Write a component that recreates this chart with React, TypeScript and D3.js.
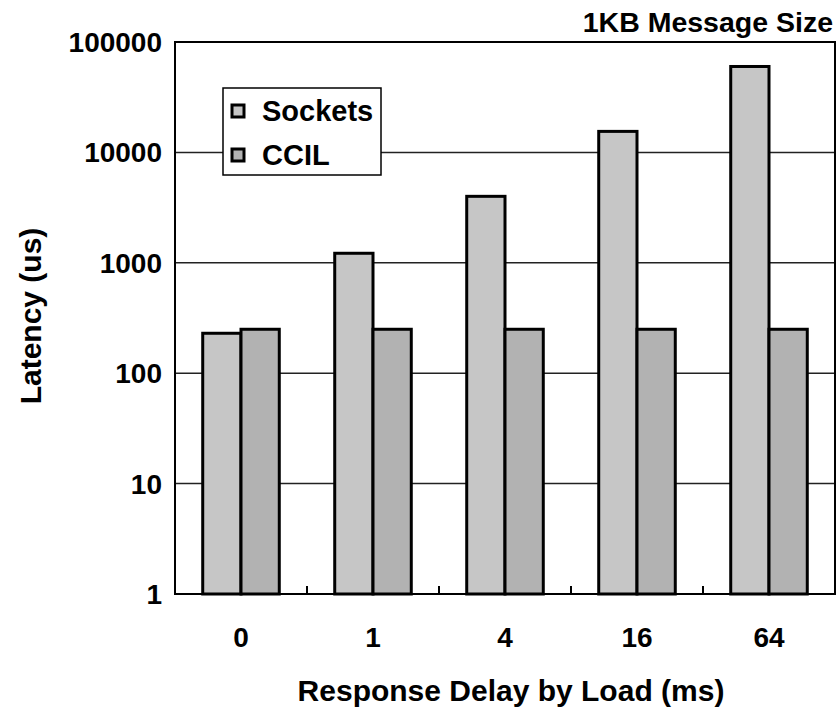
import React, { useEffect, useRef } from "react";
import * as d3 from "d3";

const categories = ["0", "1", "4", "16", "64"];
const socketsValues = [230, 1220, 4000, 15500, 60000];
const ccilValues = [250, 250, 250, 250, 250];
const seriesNames = ["Sockets", "CCIL"];
const yTicks = [1, 10, 100, 1000, 10000, 100000];

const App: React.FC = () => {
  const svgRef = useRef<SVGSVGElement>(null);

  useEffect(() => {
    if (!svgRef.current) return;
    const svg = d3.select(svgRef.current);
    svg.selectAll("*").remove();

    const margin = { top: 42, right: 2, bottom: 116, left: 175 };
    const width = 837 - margin.left - margin.right;
    const height = 710 - margin.top - margin.bottom;
    const font = "'Liberation Sans', Arial, sans-serif";
    const colors = ["#c6c6c6", "#b2b2b2"];

    const g = svg
      .append("g")
      .attr("transform", `translate(${margin.left},${margin.top})`);

    const x = d3.scaleBand().domain(categories).range([0, width]);
    const inner = d3
      .scaleBand()
      .domain(seriesNames)
      .range([0, x.bandwidth() * 0.58])
      .padding(0);
    const offset = (x.bandwidth() - x.bandwidth() * 0.58) / 2;

    const y = d3.scaleLog().domain([1, 100000]).range([height, 0]);

    // gridlines
    g.append("g")
      .selectAll("line")
      .data(yTicks)
      .enter()
      .append("line")
      .attr("x1", 0)
      .attr("x2", width)
      .attr("y1", (d) => y(d))
      .attr("y2", (d) => y(d))
      .attr("stroke", "#222")
      .attr("stroke-width", 1.5);

    // y tick labels
    g.append("g")
      .selectAll("text")
      .data(yTicks)
      .enter()
      .append("text")
      .attr("x", -13)
      .attr("y", (d) => y(d))
      .attr("dy", "0.36em")
      .attr("text-anchor", "end")
      .style("font-family", font)
      .style("font-weight", "bold")
      .style("font-size", "28px")
      .text((d) => String(d));

    // bars
    const series = [socketsValues, ccilValues];
    series.forEach((vals, si) => {
      g.append("g")
        .selectAll("rect")
        .data(vals)
        .enter()
        .append("rect")
        .attr("x", (d, i) => (x(categories[i]) || 0) + offset + (inner(seriesNames[si]) || 0))
        .attr("y", (d) => y(d))
        .attr("width", inner.bandwidth())
        .attr("height", (d) => height - y(d))
        .attr("fill", colors[si])
        .attr("stroke", "#000")
        .attr("stroke-width", 3);
    });

    // frame
    g.append("rect")
      .attr("x", 0)
      .attr("y", 0)
      .attr("width", width)
      .attr("height", height)
      .attr("fill", "none")
      .attr("stroke", "#000")
      .attr("stroke-width", 2);

    // x category tick marks
    g.append("g")
      .selectAll("line")
      .data(categories.slice(1))
      .enter()
      .append("line")
      .attr("x1", (d) => x(d) || 0)
      .attr("x2", (d) => x(d) || 0)
      .attr("y1", height)
      .attr("y2", height - 8)
      .attr("stroke", "#000")
      .attr("stroke-width", 2);

    // x labels
    g.append("g")
      .selectAll("text")
      .data(categories)
      .enter()
      .append("text")
      .attr("x", (d) => (x(d) || 0) + x.bandwidth() / 2)
      .attr("y", height + 53)
      .attr("text-anchor", "middle")
      .style("font-family", font)
      .style("font-weight", "bold")
      .style("font-size", "28px")
      .text((d) => d);

    // axis titles
    svg
      .append("text")
      .attr("x", 511)
      .attr("y", 701)
      .attr("text-anchor", "middle")
      .style("font-family", font)
      .style("font-weight", "bold")
      .style("font-size", "30px")
      .text("Response Delay by Load (ms)");

    svg
      .append("text")
      .attr("transform", "translate(41,316) rotate(-90)")
      .attr("text-anchor", "middle")
      .style("font-family", font)
      .style("font-weight", "bold")
      .style("font-size", "30px")
      .text("Latency (us)");

    svg
      .append("text")
      .attr("x", 833)
      .attr("y", 32)
      .attr("text-anchor", "end")
      .style("font-family", font)
      .style("font-weight", "bold")
      .style("font-size", "28.5px")
      .text("1KB Message Size");

    // legend
    const legend = svg.append("g").attr("transform", "translate(223,88)");
    legend
      .append("rect")
      .attr("width", 158)
      .attr("height", 87)
      .attr("fill", "#fff")
      .attr("stroke", "#000")
      .attr("stroke-width", 1.5);
    seriesNames.forEach((name, i) => {
      legend
        .append("rect")
        .attr("x", 9)
        .attr("y", 17 + i * 44)
        .attr("width", 12)
        .attr("height", 12)
        .attr("fill", colors[i])
        .attr("stroke", "#000")
        .attr("stroke-width", 3);
      legend
        .append("text")
        .attr("x", 39)
        .attr("y", 23 + i * 44)
        .attr("dy", "0.36em")
        .style("font-family", font)
        .style("font-weight", "bold")
        .style("font-size", "29px")
        .text(name);
    });
  }, []);

  return <svg ref={svgRef} width={837} height={710} style={{ display: "block", position: "absolute", left: 0, top: 0 }}></svg>;
};

export default App;
